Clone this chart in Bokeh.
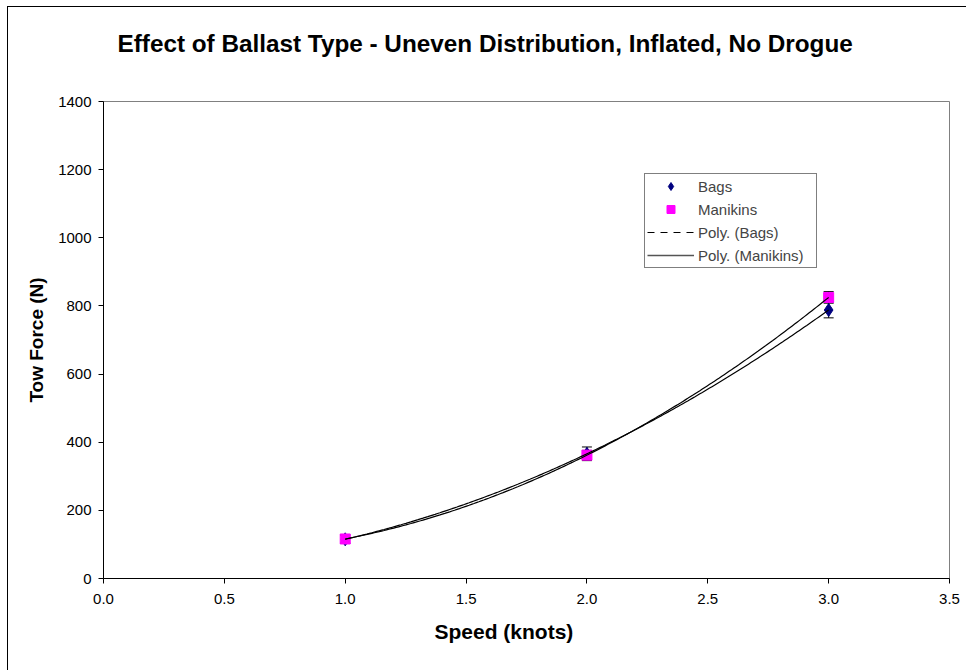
import numpy as np
from bokeh.plotting import figure
from bokeh.models import (ColumnDataSource, Whisker, Legend, LegendItem, Title,
                          SingleIntervalTicker, NumeralTickFormatter, Range1d)
from bokeh.embed import file_html
from bokeh.resources import INLINE

# Tow force measurements (N) at each towing speed (knots)
speed = [1.0, 2.0, 3.0]
bags_force = [115, 366, 788]
bags_err = [12, 20, 23]
manikins_force = [116, 362, 825]
manikins_err = [12, 14, 17]

FONT = "Liberation Sans"

p = figure(width=959, height=664, output_backend="svg", toolbar_location=None,
           title=None,
           x_range=Range1d(0, 3.5), y_range=Range1d(0, 1400),
           min_border_left=95, min_border_right=18,
           min_border_top=94, min_border_bottom=93)
p.styles = {"margin-left": "7px", "margin-top": "6px",
            "border-left": "1px solid #000", "border-top": "1px solid #000"}

# blank title row kept between the chart title and the frame
p.add_layout(Title(text=" ", text_font_size="1px", standoff=42), "above")
p.add_layout(Title(text="Effect of Ballast Type - Uneven Distribution, Inflated, No Drogue",
                   text_font=FONT, text_font_size="24.3px", text_font_style="bold",
                   text_color="black", align="left", offset=14, standoff=0),
             "above")

p.xgrid.visible = False
p.ygrid.visible = False
p.outline_line_color = "#808080"
p.outline_line_width = 1

for ax in (p.below[0], p.left[0]):
    ax.axis_line_color = "black"
    ax.major_tick_line_color = "black"
    ax.minor_tick_line_color = None
    ax.major_tick_out = 5
    ax.major_tick_in = 0
    ax.major_label_text_font = FONT
    ax.major_label_text_font_size = "15px"
    ax.major_label_text_color = "black"
    ax.axis_label_text_font = FONT
    ax.axis_label_text_font_style = "bold"
    ax.axis_label_text_color = "black"

xaxis = p.below[0]
xaxis.ticker = SingleIntervalTicker(interval=0.5)
xaxis.formatter = NumeralTickFormatter(format="0.0")
xaxis.major_label_standoff = 10

yaxis = p.left[0]
yaxis.ticker = SingleIntervalTicker(interval=200)
yaxis.major_label_standoff = 7
yaxis.axis_label = "Tow Force (N)"
yaxis.axis_label_text_font_size = "19px"
yaxis.axis_label_standoff = 8

# x-axis title, set a little left of the frame centre
p.add_layout(Title(text="Speed (knots)", text_font=FONT, text_font_size="21px",
                   text_font_style="bold", text_color="black", align="left",
                   offset=331, standoff=26, vertical_align="top"), "below")

bags = ColumnDataSource(dict(
    x=speed, y=bags_force,
    lo=[v - e for v, e in zip(bags_force, bags_err)],
    hi=[v + e for v, e in zip(bags_force, bags_err)]))
man = ColumnDataSource(dict(
    x=speed, y=manikins_force,
    lo=[v - e for v, e in zip(manikins_force, manikins_err)],
    hi=[v + e for v, e in zip(manikins_force, manikins_err)]))

r_bags = p.scatter("x", "y", source=bags, marker="diamond", size=13,
                   fill_color="#000080", line_color="#000080")
r_man = p.scatter("x", "y", source=man, marker="square", size=10,
                  fill_color="#FF00FF", line_color="#FF00FF")

for src in (bags, man):
    w = Whisker(source=src, base="x", lower="lo", upper="hi",
                line_color="black", line_width=1)
    w.upper_head.size = 10
    w.lower_head.size = 10
    w.upper_head.line_color = "black"
    w.lower_head.line_color = "black"
    p.add_layout(w)

# Second-order polynomial trendlines through each series
xs = np.linspace(speed[0], speed[-1], 200)
fit_bags = np.polyval(np.polyfit(speed, bags_force, 2), xs)
fit_man = np.polyval(np.polyfit(speed, manikins_force, 2), xs)
p.line(xs, fit_bags, line_color="black", line_width=1.2)
p.line(xs, fit_man, line_color="black", line_width=1.2)

# legend swatches for the trendlines (kept outside the visible range)
r_leg_bags = p.line([-2, -1], [-100, -100], line_color="black",
                    line_width=1, line_dash="7 6")
r_leg_man = p.line([-2, -1], [-100, -100], line_color="#555555",
                   line_width=1.5)

legend = Legend(items=[
    LegendItem(label="Bags", renderers=[r_bags]),
    LegendItem(label="Manikins", renderers=[r_man]),
    LegendItem(label="Poly. (Bags)", renderers=[r_leg_bags]),
    LegendItem(label="Poly. (Manikins)", renderers=[r_leg_man]),
], location=(541, 310), margin=0, padding=2, spacing=3,
    glyph_width=47, glyph_height=20, label_height=20, label_width=116,
    label_standoff=4,
    label_text_font=FONT, label_text_font_size="15px",
    border_line_color="black", border_line_width=1,
    background_fill_alpha=1)
p.add_layout(legend)

open("out.html", "w").write(file_html(p, INLINE))
